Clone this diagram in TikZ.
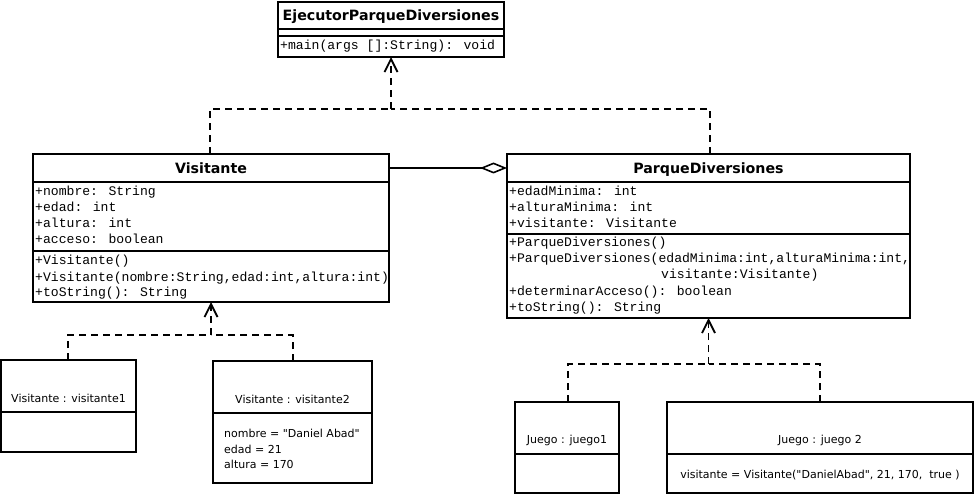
\documentclass[tikz,border=0pt]{standalone}
\usepackage{fontspec}
\setmainfont{DejaVu Sans}[Ligatures=TeXOff]
\newfontfamily\monof{Liberation Mono}
\usetikzlibrary{arrows.meta,calc}
\tikzset{
  box/.style={draw, line width=1.6pt, inner sep=0pt, outer sep=0pt, anchor=north west, fill=white},
  sepline/.style={line width=1.6pt},
  ttl/.style={inner sep=0pt, anchor=base, font=\fontsize{14.2}{16}\selectfont\bfseries},
  mono/.style={inner sep=0pt, anchor=base west, font=\monof\fontsize{13.1}{15}\selectfont},
  obj/.style={inner sep=0pt, anchor=base, font=\fontsize{11}{13}\selectfont},
  objattr/.style={obj, anchor=base west},
  dep/.style={line width=1.6pt, dash pattern=on 7pt off 5pt},
  deparrow/.style={dep, -{Straight Barb[length=13pt,width=13pt,line width=1.8pt]}},
  agg/.style={line width=1.6pt, -{Diamond[open,length=27pt,width=11pt,line width=1.6pt]}},
}
\begin{document}
\begin{tikzpicture}[x=1pt,y=-1pt]
\useasboundingbox (0,0) rectangle (974,494);

% ---------- boxes ----------
\node[box, minimum width=226pt, minimum height=55pt] (ejec) at (278,2) {};
\node[box, minimum width=356pt, minimum height=148pt] (vis) at (33,154) {};
\node[box, minimum width=403pt, minimum height=164pt] (parq) at (507,154) {};
\node[box, minimum width=135pt, minimum height=92pt] (v1) at (1,360) {};
\node[box, minimum width=159pt, minimum height=122pt] (v2) at (213,361) {};
\node[box, minimum width=104pt, minimum height=91pt] (j1) at (515,402) {};
\node[box, minimum width=306pt, minimum height=91pt] (j2) at (667,402) {};

% ---------- compartment separators ----------
\draw[sepline] ($(ejec.north west)+(0,27)$) -- ($(ejec.north east)+(0,27)$);
\draw[sepline] ($(ejec.north west)+(0,34)$) -- ($(ejec.north east)+(0,34)$);
\draw[sepline] ($(vis.north west)+(0,28)$) -- ($(vis.north east)+(0,28)$);
\draw[sepline] ($(vis.north west)+(0,97)$) -- ($(vis.north east)+(0,97)$);
\draw[sepline] ($(parq.north west)+(0,28)$) -- ($(parq.north east)+(0,28)$);
\draw[sepline] ($(parq.north west)+(0,80)$) -- ($(parq.north east)+(0,80)$);
\draw[sepline] ($(v1.north west)+(0,52)$) -- ($(v1.north east)+(0,52)$);
\draw[sepline] ($(v2.north west)+(0,52)$) -- ($(v2.north east)+(0,52)$);
\draw[sepline] ($(j1.north west)+(0,52)$) -- ($(j1.north east)+(0,52)$);
\draw[sepline] ($(j2.north west)+(0,52)$) -- ($(j2.north east)+(0,52)$);

% ---------- EjecutorParqueDiversiones ----------
\node[ttl] (ejecT) at (391,21) {EjecutorParqueDiversiones};
\node[mono] (ejecM) at (280,50) {+main(args []:String): void};

% ---------- Visitante ----------
\node[ttl] (visT) at (211,173.5) {Visitante};
\node[mono] (visA1) at (35,195.5) {+nombre: String};
\node[mono] (visA2) at (35,211.5) {+edad: int};
\node[mono] (visA3) at (35,227.5) {+altura: int};
\node[mono] (visA4) at (35,243.5) {+acceso: boolean};
\node[mono] (visM1) at (35,265) {+Visitante()};
\node[mono] (visM2) at (35,281) {+Visitante(nombre:String,edad:int,altura:int)};
\node[mono] (visM3) at (35,297) {+toString(): String};

% ---------- ParqueDiversiones ----------
\node[ttl] (parqT) at (708.5,173.5) {ParqueDiversiones};
\node[mono] (parqA1) at (509,196) {+edadMinima: int};
\node[mono] (parqA2) at (509,212) {+alturaMinima: int};
\node[mono] (parqA3) at (509,228) {+visitante: Visitante};
\node[mono] (parqM1) at (509,247) {+ParqueDiversiones()};
\node[mono] (parqM2) at (509,263) {+ParqueDiversiones(edadMinima:int,alturaMinima:int,};
\node[mono] (parqM2b) at (661,279) {visitante:Visitante)};
\node[mono] (parqM3) at (509,295) {+determinarAcceso(): boolean};
\node[mono] (parqM4) at (509,311) {+toString(): String};

% ---------- objects ----------
\node[obj] (v1T) at (68.5,402.3) {Visitante : visitante1};
\node[obj] (v2T) at (292.5,403.3) {Visitante : visitante2};
\node[objattr] (v2A1) at (224,437) {nombre = "Daniel Abad"};
\node[objattr] (v2A2) at (224,453) {edad = 21};
\node[objattr] (v2A3) at (224,468) {altura = 170};
\node[obj] (j1T) at (567,443.5) {Juego : juego1};
\node[obj] (j2T) at (820,443.5) {Juego : juego 2};
\node[obj] (j2A1) at (820,478) {visitante = Visitante("DanielAbad", 21, 170, \ true )};

% ---------- helper coordinates ----------
\coordinate (yA) at (0,109);
\coordinate (yB) at (0,335);
\coordinate (yC) at (0,364);
\coordinate (yAgg) at (0,168);
\coordinate (xVL) at (210,0);
\coordinate (xVR) at (710,0);
\coordinate (xO1) at (68,0);
\coordinate (xO2) at (293,0);
\coordinate (xJ1) at (568,0);
\coordinate (xJ2) at (820,0);

% ---------- connectors ----------
\draw[dep] (vis.north -| xVL) -- (xVL |- yA) -- (ejec.south |- yA);
\draw[dep] (parq.north -| xVR) -- (xVR |- yA) -- (ejec.south |- yA);
\draw[deparrow] (ejec.south |- yA) -- (ejec.south);

\draw[agg] (vis.east |- yAgg) -- (parq.west |- yAgg);

\draw[dep] (v1.north -| xO1) -- (xO1 |- yB) -- (vis.south |- yB);
\draw[dep] (v2.north -| xO2) -- (xO2 |- yB) -- (vis.south |- yB);
\draw[deparrow] (vis.south |- yB) -- (vis.south);

\draw[dep] (j1.north -| xJ1) -- (xJ1 |- yC) -- (parq.south |- yC);
\draw[dep] (j2.north -| xJ2) -- (xJ2 |- yC) -- (parq.south |- yC);
\draw[deparrow] (parq.south |- yC) -- (parq.south);
\end{tikzpicture}
\end{document}
